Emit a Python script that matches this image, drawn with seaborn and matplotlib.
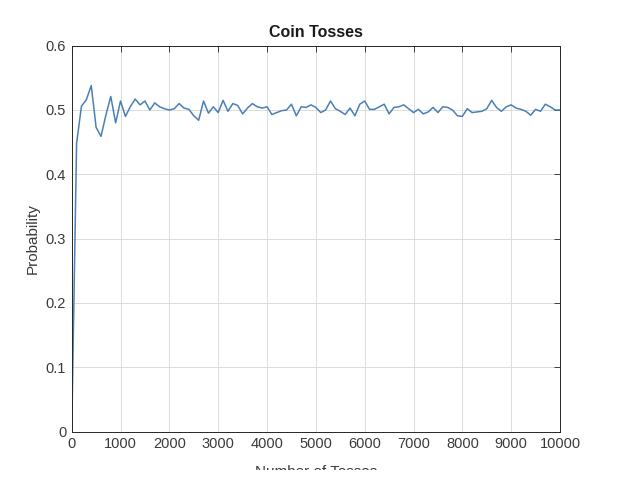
import matplotlib
matplotlib.use("Agg")
import matplotlib.pyplot as plt
from matplotlib.patches import Rectangle
import pandas as pd
import seaborn as sns

# ── Data ──────────────────────────────────────────────────────────────
TOSSES = list(range(0, 10001, 100))
PROB = [
    0.000,
    0.448, 0.506, 0.516, 0.538, 0.473, 0.459, 0.492, 0.521, 0.480, 0.514,
    0.490, 0.505, 0.517, 0.508, 0.514, 0.500, 0.511, 0.505, 0.502, 0.500,
    0.502, 0.510, 0.503, 0.501, 0.491, 0.484, 0.514, 0.495, 0.505, 0.496,
    0.515, 0.498, 0.510, 0.507, 0.494, 0.503, 0.510, 0.505, 0.503, 0.505,
    0.493, 0.496, 0.499, 0.500, 0.509, 0.491, 0.505, 0.504, 0.508, 0.504,
    0.496, 0.500, 0.514, 0.502, 0.498, 0.493, 0.503, 0.491, 0.509, 0.514,
    0.501, 0.501, 0.505, 0.509, 0.494, 0.504, 0.505, 0.508, 0.502, 0.496,
    0.501, 0.494, 0.497, 0.504, 0.496, 0.505, 0.504, 0.500, 0.491, 0.490,
    0.502, 0.496, 0.497, 0.498, 0.502, 0.515, 0.504, 0.498, 0.505, 0.508,
    0.503, 0.501, 0.498, 0.492, 0.501, 0.498, 0.509, 0.505, 0.500, 0.500,
]
X_TICKS = [0, 1000, 2000, 3000, 4000, 5000, 6000, 7000, 8000, 9000, 10000]
Y_TICKS = [0, 0.1, 0.2, 0.3, 0.4, 0.5, 0.6]
Y_TICK_LABELS = ["0", "0.1", "0.2", "0.3", "0.4", "0.5", "0.6"]

LINE_COLOR = "#4a80b6"
AX_COLOR   = "#262626"
TXT_COLOR  = "#3a3a3a"

sns.set_style("white")
plt.rcParams["font.family"] = ["Liberation Sans", "DejaVu Sans"]

df = pd.DataFrame({"tosses": TOSSES, "prob": PROB})

fig = plt.figure(figsize=(6.3, 4.8), dpi=100)
fig.patch.set_facecolor("white")
ax = fig.add_axes([71.7 / 630, 48.5 / 480, (560 - 71.7) / 630, (431.5 - 45.7) / 480])

sns.lineplot(data=df, x="tosses", y="prob", ax=ax, color=LINE_COLOR, lw=1.1)

ax.set_xlim(0, 10000); ax.set_ylim(0, 0.6)
ax.set_xticks(X_TICKS); ax.set_xticklabels([str(t) for t in X_TICKS])
ax.set_yticks(Y_TICKS); ax.set_yticklabels(Y_TICK_LABELS)
ax.tick_params(direction="in", length=4, width=0.6, colors=AX_COLOR,
               labelcolor=TXT_COLOR, labelsize=10.5, top=True, right=True, pad=4)
ax.grid(True, color="#dcdcdc", lw=0.7)
ax.set_axisbelow(True)
for sp in ax.spines.values():
    sp.set_edgecolor(AX_COLOR); sp.set_linewidth(0.7)

ax.set_xlabel(""); ax.set_ylabel("Probability", fontsize=11, color=TXT_COLOR, labelpad=4)
ax.set_title("Coin Tosses", fontsize=11.5, fontweight="bold", color="#1a1a1a", pad=6)

# x label sits partly off the bottom edge in the reference
fig.text(315.8 / 630, 1 - 465 / 480, "Number of Tosses", ha="center", va="top",
         fontsize=11, color=TXT_COLOR)
fig.patches.append(Rectangle((0, 0), 1, 10 / 480, transform=fig.transFigure,
                             facecolor="white", edgecolor="none", zorder=10))

fig.savefig("out.png", dpi=100, facecolor="white")
